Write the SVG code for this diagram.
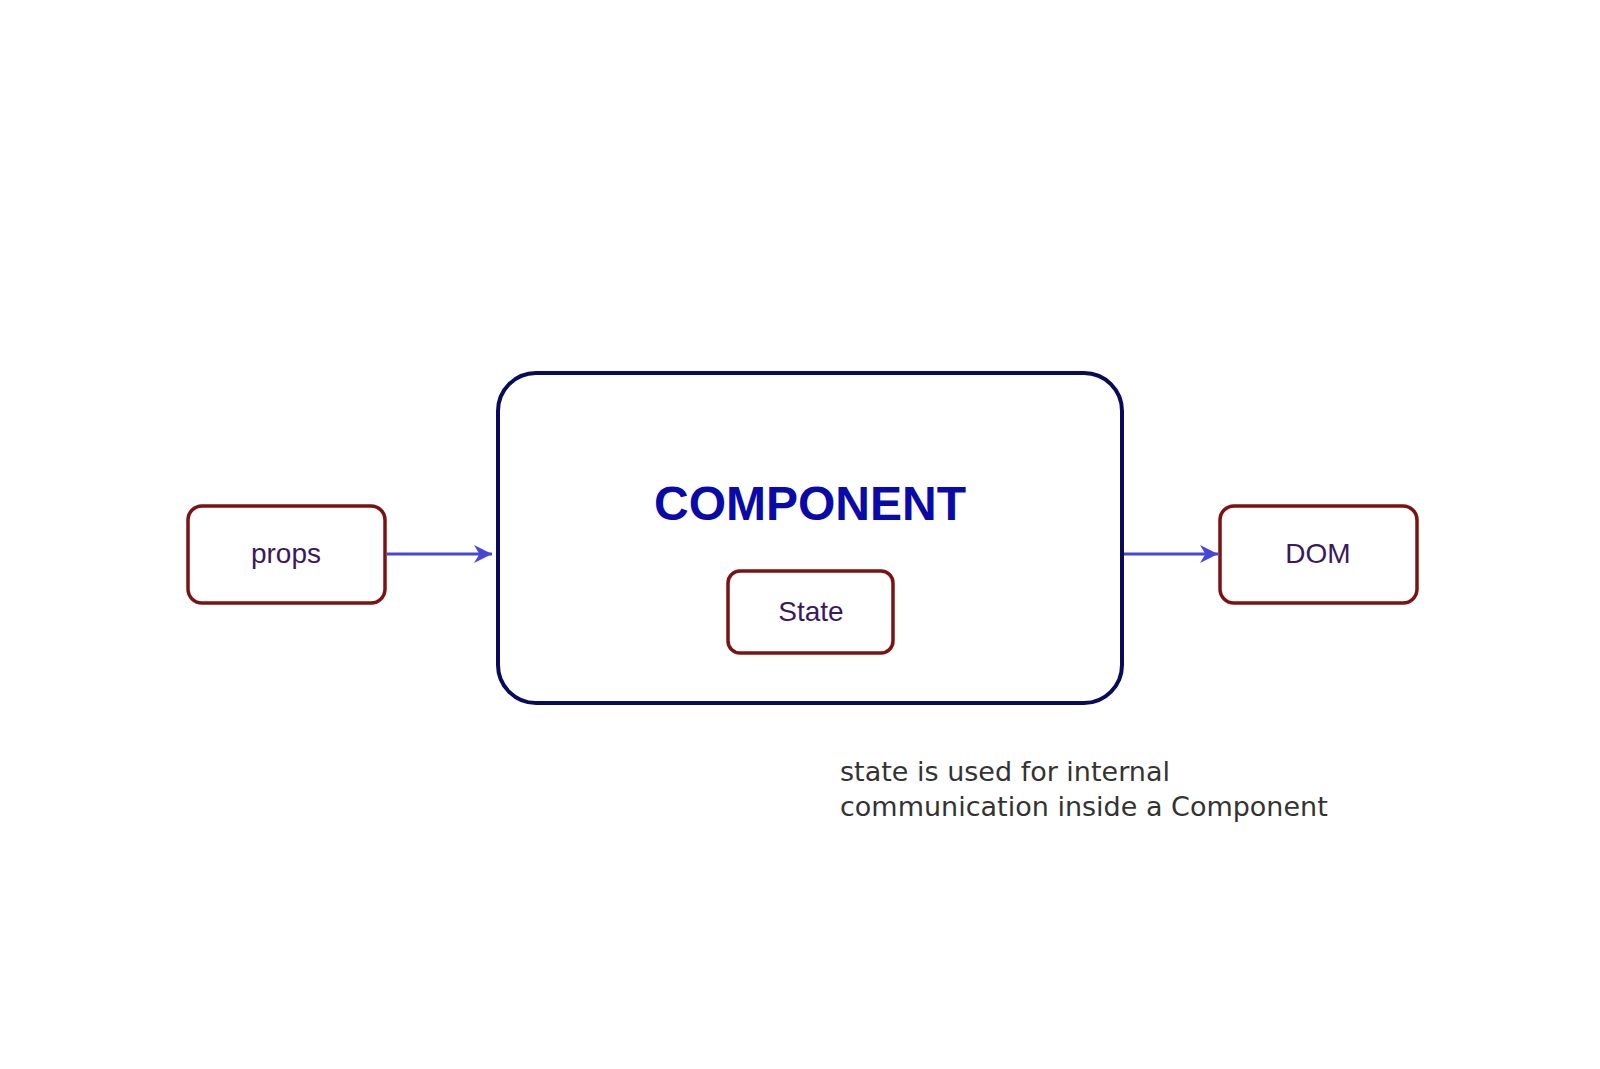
<svg xmlns="http://www.w3.org/2000/svg" width="1600" height="1069" viewBox="0 0 1600 1069">
<style>
.box{fill:#fff;stroke:#7a1414;stroke-width:3.5}
.lbl{font-family:"Liberation Sans",Arial,sans-serif;font-size:28px;fill:#3a1a5c;text-anchor:middle}
.con{stroke:#4646d8;stroke-width:3;fill:none}
</style>
<defs><marker id="ah" viewBox="0 0 10 10" refX="10" refY="5" markerWidth="6" markerHeight="6" orient="auto" markerUnits="strokeWidth"><path d="M0,0 L10,5 L0,10 L3,5 z" fill="#4646d8"/></marker></defs>
<rect width="1600" height="1069" fill="#fff"/>
<g id="component"><rect x="498" y="373" width="624" height="330" rx="38" fill="#fff" stroke="#0a0a5a" stroke-width="4"/>
<text x="810" y="520" font-family="Liberation Sans,Arial,sans-serif" font-weight="bold" font-size="48" fill="#0a0aa8" text-anchor="middle">COMPONENT</text></g>
<g id="state"><rect class="box" x="728" y="571" width="165" height="82" rx="12"/><text class="lbl" x="811" y="621">State</text></g>
<g id="props"><rect class="box" x="188" y="506" width="197" height="97" rx="14"/><text class="lbl" x="286" y="563">props</text></g>
<g id="dom"><rect class="box" x="1220" y="506" width="197" height="97" rx="14"/><text class="lbl" x="1318" y="563">DOM</text></g>
<g id="connectors"><path class="con" d="M387,554 H492" marker-end="url(#ah)"/><path class="con" d="M1124,554 H1218" marker-end="url(#ah)"/></g>
<g id="note"><text font-family="DejaVu Sans,sans-serif" font-size="27" fill="#333"><tspan x="840" y="781">state is used for internal</tspan><tspan x="840" y="816">communication inside a Component</tspan></text></g>
</svg>
